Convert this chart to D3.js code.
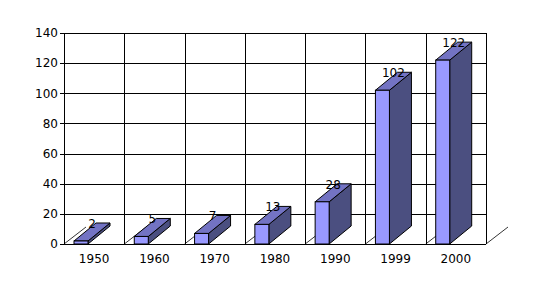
<!doctype html>
<html>
<head>
<style>
  body { margin: 0; background: #fff; }
  text { font-family: "DejaVu Sans", sans-serif; font-size: 12px; fill: #000; }
</style>
</head>
<body>
<script src="https://d3js.org/d3.v7.min.js"></script>
<script>
// chart data
var categories = ["1950", "1960", "1970", "1980", "1990", "1999", "2000"];
var values = [2, 5, 7, 13, 28, 102, 122];
var yTicks = [0, 20, 40, 60, 80, 100, 120, 140];

var width = 544, height = 289;
var plot = { left: 64, right: 486, top: 33, bottom: 244 };
var depth = { dx: 22, dy: 18 };

var svg = d3.select("body").append("svg")
    .attr("width", width)
    .attr("height", height);

var x = d3.scaleBand()
    .domain(categories)
    .range([plot.left, plot.right]);

var y = d3.scaleLinear()
    .domain([0, 140])
    .range([plot.bottom, plot.top]);

// horizontal gridlines + y axis ticks
var yAxis = d3.axisLeft(y)
    .tickValues(yTicks)
    .tickSize(4)
    .tickPadding(2);

svg.append("g")
    .attr("transform", "translate(" + plot.left + ",0)")
    .call(yAxis)
    .call(function(g) {
        g.select(".domain").remove();
        g.selectAll("line").attr("stroke", "#000").attr("shape-rendering", "crispEdges");
        g.selectAll("text").style("font-size", "12px").attr("fill", "#000");
    });

svg.append("g").selectAll("line")
    .data(yTicks)
    .join("line")
    .attr("x1", plot.left)
    .attr("x2", plot.right)
    .attr("y1", function(d) { return Math.round(y(d)) + 0.5; })
    .attr("y2", function(d) { return Math.round(y(d)) + 0.5; })
    .attr("stroke", "#000");

// vertical gridlines at category boundaries
var bounds = categories.map(function(c) { return x(c); }).concat([plot.right]);
svg.append("g").selectAll("line")
    .data(bounds)
    .join("line")
    .attr("x1", function(d) { return Math.round(d) + 0.5; })
    .attr("x2", function(d) { return Math.round(d) + 0.5; })
    .attr("y1", plot.top)
    .attr("y2", plot.bottom)
    .attr("stroke", "#000");

// floor depth lines
svg.append("g").selectAll("line")
    .data(bounds)
    .join("line")
    .attr("x1", function(d) { return d; })
    .attr("y1", plot.bottom)
    .attr("x2", function(d) { return d + depth.dx; })
    .attr("y2", plot.bottom - depth.dy + 1)
    .attr("stroke", "#000")
    .attr("stroke-width", 0.8);

// 3d bars
var barOffset = 10, barW = 14;
var bars = svg.append("g").selectAll("g")
    .data(values)
    .join("g");

function fx(d, i) { return x(categories[i]) + barOffset; }

bars.append("path")   // side
    .attr("d", function(d, i) {
        var x0 = fx(d, i) + barW, yt = y(d), yb = y(0);
        return "M" + x0 + "," + yt + "L" + (x0 + depth.dx) + "," + (yt - depth.dy) +
            "L" + (x0 + depth.dx) + "," + (yb - depth.dy) + "L" + x0 + "," + yb + "Z";
    })
    .attr("fill", "#4b4f80")
    .attr("stroke", "#000")
    .attr("stroke-width", 1);

bars.append("path")   // top
    .attr("d", function(d, i) {
        var x0 = fx(d, i), yt = y(d);
        return "M" + x0 + "," + yt + "L" + (x0 + barW) + "," + yt +
            "L" + (x0 + barW + depth.dx) + "," + (yt - depth.dy) +
            "L" + (x0 + depth.dx) + "," + (yt - depth.dy) + "Z";
    })
    .attr("fill", "#7373c3")
    .attr("stroke", "#000")
    .attr("stroke-width", 1);

bars.append("rect")   // front
    .attr("x", function(d, i) { return fx(d, i); })
    .attr("y", function(d) { return y(d); })
    .attr("width", barW)
    .attr("height", function(d) { return y(0) - y(d); })
    .attr("fill", "#9999ff")
    .attr("stroke", "#000")
    .attr("stroke-width", 1);

// value labels
bars.append("text")
    .attr("x", function(d, i) { return fx(d, i) + barW / 2 + depth.dx / 2; })
    .attr("y", function(d) { return y(d) - depth.dy + 5; })
    .attr("text-anchor", "middle")
    .text(function(d) { return d; });

// x axis labels
svg.append("g").selectAll("text")
    .data(categories)
    .join("text")
    .attr("x", function(d) { return x(d) + x.bandwidth() / 2; })
    .attr("y", 263)
    .attr("text-anchor", "middle")
    .text(function(d) { return d; });
</script>
</body>
</html>
